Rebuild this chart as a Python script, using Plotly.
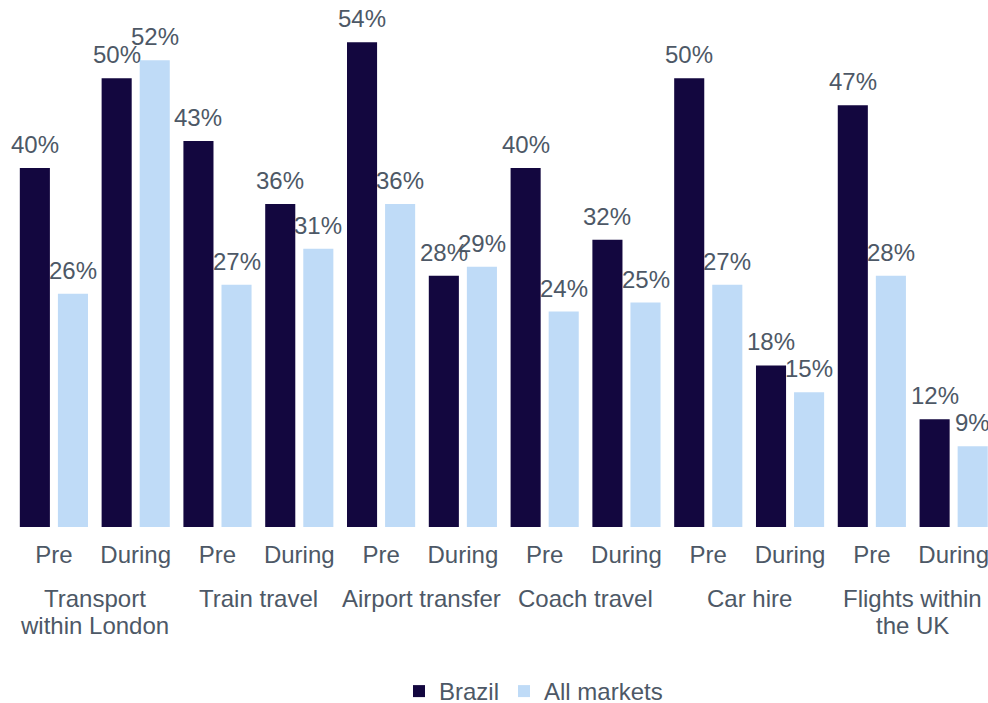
import plotly.graph_objects as go

groups = ["Transport<br>within London", "Train travel", "Airport transfer",
          "Coach travel", "Car hire", "Flights within<br>the UK"]
periods = ["Pre", "During"]
brazil = [40, 50, 43, 36, 54, 28, 40, 32, 50, 18, 47, 12]
all_markets = [26, 52, 27, 31, 36, 29, 24, 25, 27, 15, 28, 9]

tick_labels = [p for _ in groups for p in periods]
x_idx = list(range(len(tick_labels)))

text_color = "#4D5866"
font_family = "Liberation Sans, Arial, sans-serif"
fs = 24
bargap = 0.069

series = [("Brazil", brazil, "#13073F"), ("All markets", all_markets, "#BFDBF7")]

fig = go.Figure()
for name, vals, col in series:
    fig.add_trace(go.Bar(
        x=x_idx, y=vals, name=name,
        marker=dict(color=col, line=dict(width=0)),
        cliponaxis=False,
    ))

W, H = 988, 703
plot_left, plot_top, plot_bottom = 13, 10, 527
plot_h = plot_bottom - plot_top
plot_w = W - plot_left

annotations = []
# value labels above bars
half = (1 - bargap) / 4
for k, (name, vals, col) in enumerate(series):
    off = -half if k == 0 else half
    for i, v in zip(x_idx, vals):
        annotations.append(dict(
            x=i + off, xref="x", y=v, yref="y", yanchor="bottom",
            xanchor="center", yshift=8, text=f"{v}%", showarrow=False,
            font=dict(size=fs, color=text_color, family=font_family),
        ))
# group labels (each line separately for tighter line spacing)
for i, g in enumerate(groups):
    for j, line in enumerate(g.split("<br>")):
        annotations.append(dict(
            x=2 * i + 0.5, xref="x", y=-(56 + 27 * j) / plot_h, yref="paper",
            yanchor="top", xanchor="center", text=line, showarrow=False,
            font=dict(size=fs, color=text_color, family=font_family),
        ))

fig.update_layout(
    width=W, height=H,
    margin=dict(l=plot_left, r=0, t=plot_top, b=H - plot_bottom, autoexpand=False),
    paper_bgcolor="white", plot_bgcolor="white",
    font=dict(family=font_family, size=fs, color=text_color),
    barmode="group", bargap=bargap, bargroupgap=0.21,
    showlegend=True,
    legend=dict(orientation="h", x=0.5 + 33 / plot_w, xanchor="center",
                y=-142 / plot_h, yanchor="top", itemwidth=30,
                font=dict(size=fs, color=text_color)),
    xaxis=dict(tickmode="array", tickvals=x_idx, ticktext=tick_labels,
               range=[-0.5, 11.42], showline=False, showgrid=False,
               zeroline=False, ticks="", automargin=False,
               ticklabelstandoff=11, ticklabeloverflow="allow",
               tickfont=dict(size=fs, color=text_color)),
    yaxis=dict(visible=False, range=[0, 57.6], showgrid=False, zeroline=False,
               automargin=False),
    annotations=annotations,
)

fig.write_html("out.html",
               config={"displayModeBar": False},
               post_script="document.body.style.margin='0';"
                           "document.body.style.overflow='hidden';")
